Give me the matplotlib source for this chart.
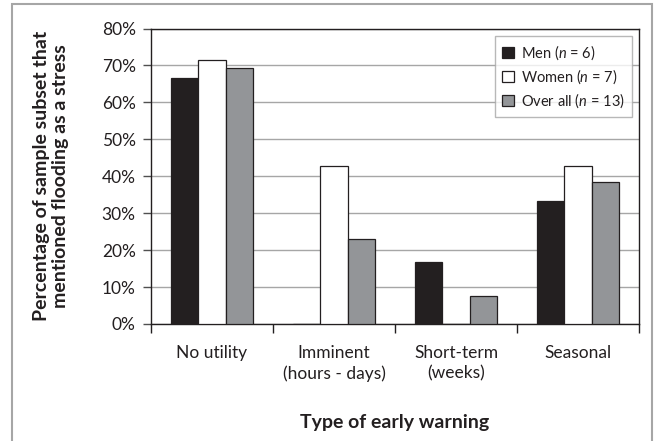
import matplotlib
matplotlib.use("Agg")
import matplotlib.pyplot as plt
import numpy as np
from matplotlib.patches import Rectangle

plt.rcParams['font.family'] = ['Lato', 'DejaVu Sans']
plt.rcParams['mathtext.fontset'] = 'custom'
plt.rcParams['mathtext.it'] = 'Lato:italic'
plt.rcParams['mathtext.rm'] = 'Lato'

categories = ["No utility", "Imminent\n(hours - days)", "Short-term\n(weeks)", "Seasonal"]
series_names = ["Men ($n$ = 6)", "Women ($n$ = 7)", "Over all ($n$ = 13)"]
men = [66.7, 0.0, 16.7, 33.3]
women = [71.4, 42.9, 0.0, 42.9]
overall = [69.2, 23.1, 7.7, 38.5]
yticks = [0, 10, 20, 30, 40, 50, 60, 70, 80]

colors = ["#231f20", "#ffffff", "#939598"]

fig = plt.figure(figsize=(6.6, 4.41), dpi=100)
ax = fig.add_axes([151/660, 1-324/441, (639-151)/660, (324-28.5)/441])

x = np.arange(len(categories))
w = 1/4.5
for i, (vals, c) in enumerate(zip([men, women, overall], colors)):
    ax.bar(x + (i-1)*w, vals, width=w, color=c, edgecolor="#231f20", linewidth=0.9, zorder=3,
           label=series_names[i])

ax.set_xlim(-0.5, len(categories)-0.5)
ax.set_ylim(0, 80)
ax.set_yticks(yticks)
ax.set_yticklabels([f"{t}%" for t in yticks], fontsize=12.5, color="#231f20")
ax.yaxis.grid(True, color="#a6a6a6", linewidth=1.0, zorder=0)
ax.tick_params(axis='y', direction='out', length=6, width=1, color="#505050", pad=5)

ax.set_xticks(x)
ax.set_xticklabels(categories, fontsize=12.5, color="#231f20", linespacing=1.35)
ax.tick_params(axis='x', which='major', length=0, pad=15)
ax.set_xticks(np.arange(-0.5, len(categories)), minor=True)
ax.tick_params(axis='x', which='minor', direction='out', length=6.5, width=1, color="#231f20")

for s in ax.spines.values():
    s.set_color("#231f20")
    s.set_linewidth(1.0)

ax.set_xlabel("Type of early warning", fontsize=14, fontweight='bold', color="#231f20", labelpad=23)
fig.text(51/660, 1-176/441, "Percentage of sample subset that\nmentioned flooding as a stress",
         rotation=90, ha='center', va='center', fontsize=14, fontweight='bold',
         color="#231f20", linespacing=1.2)

leg = ax.legend(loc='upper right', bbox_to_anchor=(632/660, 1-36/441), bbox_transform=fig.transFigure,
                fontsize=10.5, frameon=True, fancybox=False, edgecolor="#a6a6a6",
                handlelength=0.8, handleheight=0.8, handletextpad=0.5, borderpad=0.5,
                labelspacing=0.38, borderaxespad=0)
leg.get_frame().set_linewidth(1.0)
for t in leg.get_texts():
    t.set_color("#231f20")

frame = Rectangle((12/660, -0.1), (652-12)/660, 1.1 - 4/441, transform=fig.transFigure,
                  fill=False, edgecolor="#a6a6a6", linewidth=1.5)
fig.patches.append(frame)

fig.savefig("out.png", dpi=100)
